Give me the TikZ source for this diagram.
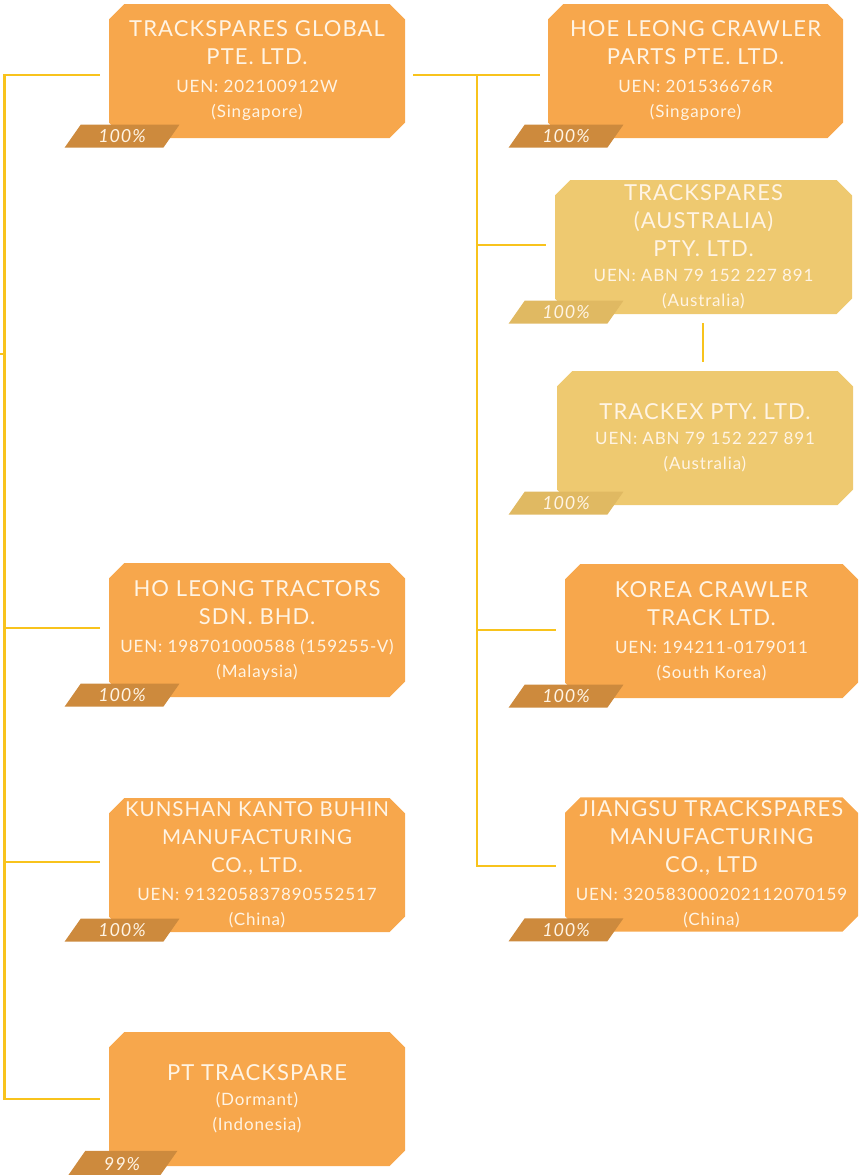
\documentclass[tikz,border=0pt]{standalone}
\usepackage{fontspec}
\setmainfont{Lato}[LetterSpace=5]
\usetikzlibrary{shapes.misc,shapes.geometric}
\definecolor{boxorange}{HTML}{F7A74C}
\definecolor{ausfill}{HTML}{EEC970}
\definecolor{tagbrown}{HTML}{CD8A3D}
\definecolor{austag}{HTML}{E0B962}
\definecolor{boxtext}{HTML}{FFF4E4}
\definecolor{linkyellow}{HTML}{F8C31C}
\newcommand{\ttl}{\fontsize{22}{25}\selectfont}
\newcommand{\ttls}{\fontsize{20.5}{25}\selectfont}
\newcommand{\sml}{\fontsize{17}{25}\selectfont}

\begin{document}
\begin{tikzpicture}[x=1pt, y=-1pt,
    company/.style={chamfered rectangle, chamfered rectangle xsep=12pt,
                    fill=boxorange, text=boxtext, minimum width=296pt,
                    minimum height=134pt, inner xsep=-12pt, inner ysep=0pt,
                    align=center, font=\sml},
    ausco/.style={company, fill=ausfill},
    share/.style={trapezium, trapezium left angle=55, trapezium right angle=125,
                  fill=tagbrown, text=boxtext, minimum width=111pt, minimum height=23pt,
                  inner sep=0pt, font=\fontsize{18}{18}\selectfont\itshape},
    ausshare/.style={share, fill=austag},
    link/.style={draw=linkyellow, line width=2.5pt}
]
\useasboundingbox (0,0) rectangle (859,1175);
\coordinate (lcol) at (122,0);
\coordinate (rcol) at (566,0);
\coordinate (ltrunk) at (4.5,0);
\coordinate (rtrunk) at (477,0);
\coordinate (parent) at (0,354);

% left column
\node[company] (tg) at (257,71) {\ttl TRACKSPARES GLOBAL\\[3pt]\ttl PTE. LTD.\\[3pt]\sml UEN: 202100912W\\\sml (Singapore)};
\node[share, yshift=2pt] (tgshare) at (tg.south -| lcol) {100\%};
\node[company] (hlt) at (257,630) {\ttl HO LEONG TRACTORS\\[3pt]\ttl SDN. BHD.\\[3pt]\sml UEN: 198701000588 (159255-V)\\\sml (Malaysia)};
\node[share, yshift=2pt] (hltshare) at (hlt.south -| lcol) {100\%};
\node[company] (kk) at (257,865) {\ttls KUNSHAN KANTO BUHIN\\[3pt]\ttls MANUFACTURING\\[3pt]\ttls CO., LTD.\\[3pt]\sml UEN: 913205837890552517\\\sml (China)};
\node[share, yshift=2pt] (kkshare) at (kk.south -| lcol) {100\%};
\node[company] (pt) at (257,1099) {\ttl PT TRACKSPARE\\\sml (Dormant)\\\sml (Indonesia)};
\node[share, yshift=2pt] (ptshare) at (pt.south -| lcol) {99\%};

% right column
\node[company, minimum width=295pt] (hlc) at (695.5,71) {\ttl HOE LEONG CRAWLER\\[3pt]\ttl PARTS PTE. LTD.\\[3pt]\sml UEN: 201536676R\\\sml (Singapore)};
\node[share, yshift=2pt] (hlcshare) at (hlc.south -| rcol) {100\%};
\node[ausco, minimum width=297pt] (ta) at (703.5,247) {\ttl TRACKSPARES\\[3pt]\ttl (AUSTRALIA)\\[3pt]\ttl PTY. LTD.\\\sml UEN: ABN 79 152 227 891\\\sml (Australia)};
\node[ausshare, yshift=2pt] (tashare) at (ta.south -| rcol) {100\%};
\node[ausco] (tx) at (705,438) {\ttl TRACKEX PTY. LTD.\\\sml UEN: ABN 79 152 227 891\\\sml (Australia)};
\node[ausshare, yshift=2pt] (txshare) at (tx.south -| rcol) {100\%};
\node[company, minimum width=293pt] (kct) at (711.5,631) {\ttl KOREA CRAWLER\\[3pt]\ttl TRACK LTD.\\[3pt]\sml UEN: 194211-0179011\\\sml (South Korea)};
\node[share, yshift=2pt] (kctshare) at (kct.south -| rcol) {100\%};
\node[company, minimum width=293pt] (jt) at (711.5,864.5) {\ttl JIANGSU TRACKSPARES\\[3pt]\ttl MANUFACTURING\\[3pt]\ttl CO., LTD\\[3pt]\sml UEN: 320583000202112070159\\\sml (China)};
\node[share, yshift=2pt] (jtshare) at (jt.south -| rcol) {100\%};

% connectors
\draw[link] (parent) -- (parent -| ltrunk);
\draw[link] ([xshift=-9pt, yshift=-4pt]tg.west) -| (pt.west -| ltrunk)
            -- ([xshift=-9pt]pt.west);
\draw[link] ([yshift=2pt]hlt.west -| ltrunk) -- ([xshift=-9pt, yshift=2pt]hlt.west);
\draw[link] ([yshift=3pt]kk.west -| ltrunk) -- ([xshift=-9pt, yshift=3pt]kk.west);
\draw[link] ([xshift=8pt, yshift=-4pt]tg.east) -- ([xshift=-8pt, yshift=-4pt]hlc.west);
\draw[link] ([yshift=-4pt]tg.east -| rtrunk) |- ([xshift=-9pt, yshift=-1.5pt]jt.west);
\draw[link] ([yshift=2pt]ta.west -| rtrunk) -- ([xshift=-9pt, yshift=2pt]ta.west);
\draw[link] ([yshift=1pt]kct.west -| rtrunk) -- ([xshift=-9pt, yshift=1pt]kct.west);
\draw[link] ([xshift=-0.5pt, yshift=-9pt]ta.south) -- ([xshift=-0.5pt, yshift=9pt]ta.south |- tx.north);
\end{tikzpicture}
\end{document}
